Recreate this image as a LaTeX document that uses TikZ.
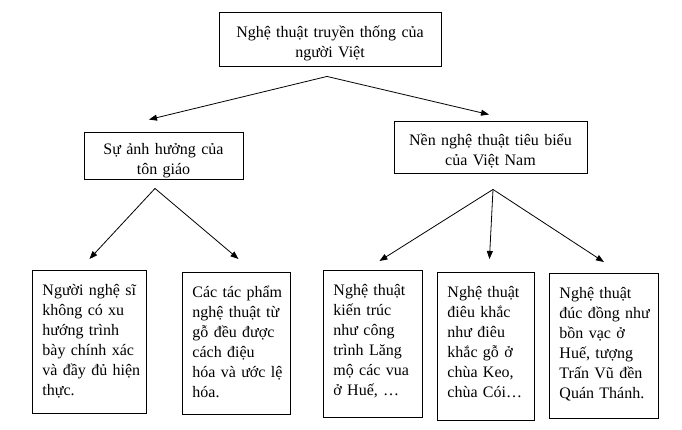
\documentclass[tikz,border=0pt]{standalone}
\usepackage{fontspec}
\setmainfont{Liberation Serif}
\usetikzlibrary{arrows.meta}

\begin{document}
\begin{tikzpicture}[
  x=1pt,y=-1pt,
  font=\fontsize{16}{20}\selectfont,
  head/.style={draw,line width=.9pt,align=center,inner sep=0pt,
               text height=22pt,text depth=24pt},
  leaf/.style={draw,line width=.9pt,anchor=north west,align=left,
               inner xsep=5pt,inner ysep=0pt,text height=25pt,
               execute at begin node={\leftskip=5pt}},
  ar/.style={-{Triangle[length=8pt,width=6pt]},line width=.8pt}]
\fill[white] (0,0) rectangle (682,430);
\node[head,minimum width=222pt,minimum height=54pt,text width=212pt] (root) at (330,39)
  {Nghệ thuật truyền thống của\\người Việt};
\node[head,minimum width=159pt,minimum height=47pt,text width=150pt] (relig) at (163.5,155.5)
  {Sự ảnh hưởng của\\tôn giáo};
\node[head,minimum width=193pt,minimum height=52pt,text width=183pt] (typ) at (490.5,147)
  {Nền nghệ thuật tiêu biểu\\của Việt Nam};
\node[leaf,text width=104pt,text depth=118pt] (realism) at (32,270)
  {Người nghệ sĩ\\không có xu\\hướng trình\\bày chính xác\\và đầy đủ hiện\\thực.};
\node[leaf,text width=98pt,text depth=117pt] (stylize) at (182,272)
  {Các tác phẩm\\nghệ thuật từ\\gỗ đều được\\cách điệu\\hóa và ước lệ\\hóa.};
\node[leaf,text width=89pt,text depth=122pt] (archi) at (323,270)
  {Nghệ thuật\\kiến trúc\\như công\\trình Lăng\\mộ các vua\\ở Huế, …};
\node[leaf,text width=87pt,text depth=123pt] (sculpt) at (437,272)
  {Nghệ thuật\\điêu khắc\\như điêu\\khắc gỗ ở\\chùa Keo,\\chùa Cói…};
\node[leaf,text width=99pt,text depth=120pt] (bronze) at (549,273)
  {Nghệ thuật\\đúc đồng như\\bồn vạc ở\\Huế, tượng\\Trấn Vũ đền\\Quán Thánh.};
\coordinate (rootfork) at ([xshift=-3pt,yshift=-10pt]root.south);
\coordinate (religfork) at ([xshift=-8.5pt,yshift=-9pt]relig.south);
\coordinate (typfork) at ([xshift=2.5pt,yshift=-16pt]typ.south);
\draw[ar] (rootfork) -- ([xshift=-14.5pt,yshift=12pt]relig.north);
\draw[ar] (rootfork) -- ([xshift=-1.5pt,yshift=6pt]typ.north);
\draw[ar] (religfork) -- ([yshift=11pt]realism.north);
\draw[ar] (religfork) -- ([xshift=2pt,yshift=13pt]stylize.north);
\draw[ar] (typfork) -- ([xshift=6.5pt,yshift=9pt]archi.north);
\draw[ar] (typfork) -- ([xshift=3.5pt,yshift=13pt]sculpt.north);
\draw[ar] (typfork) -- ([yshift=11pt]bronze.north);
\end{tikzpicture}
\end{document}
